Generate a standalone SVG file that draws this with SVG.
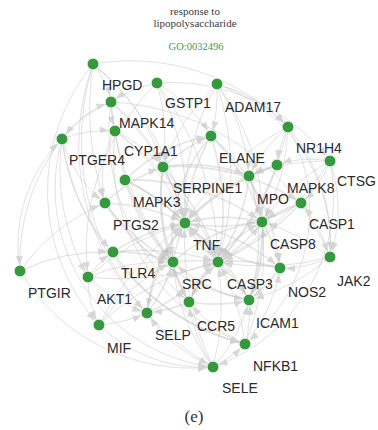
<svg xmlns="http://www.w3.org/2000/svg" width="378" height="430" viewBox="0 0 378 430">
<style>
.e{fill:none;stroke:#c4c4c4;stroke-opacity:0.5;stroke-width:1;marker-end:url(#ah)}
.c{fill:none;stroke:#b4b4b4;stroke-opacity:0.35;stroke-width:1.6;marker-end:url(#ah)}
.n circle{fill:#35993d;stroke:#e8f3e8;stroke-width:0.8}
.n text{font-family:"Liberation Sans",Arial,sans-serif;font-size:14px;fill:#2a2a2a}
.t{font-family:"Liberation Serif","Times New Roman",serif;text-anchor:middle}
</style>
<defs>
<marker id="ah" viewBox="0 0 9 7" markerWidth="9" markerHeight="7" refX="15" refY="3.5" orient="auto" markerUnits="userSpaceOnUse">
<path d="M0,0 L9,3.5 L0,7 z" fill="#d2d2d2" fill-opacity="0.85"/>
</marker>
</defs>
<rect width="378" height="430" fill="#fff"/>
<g id="title">
<text class="t" x="195" y="15" font-size="11" fill="#3a3a3a">response to</text>
<text class="t" x="195" y="27" font-size="11" fill="#3a3a3a">lipopolysaccharide</text>
<text class="t" x="196" y="50" font-size="10.5" fill="#3c9a48">GO:0032496</text>
</g>
<g id="connectors">
<path class="e" d="M93 64 A80 80 0 0 1 111 102"/>
<path class="e" d="M93 64 A200 200 0 0 1 163 167"/>
<path class="e" d="M93 64 A260 260 0 0 1 185 223"/>
<path class="e" d="M93 64 A300 300 0 0 0 105 203"/>
<path class="e" d="M157 83 A120 120 0 0 0 111 102"/>
<path class="e" d="M157 83 A200 200 0 0 1 163 167"/>
<path class="e" d="M157 83 A260 260 0 0 1 185 223"/>
<path class="e" d="M157 83 A150 150 0 0 1 211 136"/>
<path class="e" d="M157 83 A300 300 0 0 1 218 262"/>
<path class="e" d="M217 84 A150 150 0 0 1 211 136"/>
<path class="e" d="M217 84 A180 180 0 0 1 249 176"/>
<path class="e" d="M217 84 A250 250 0 0 0 185 223"/>
<path class="e" d="M217 84 A300 300 0 0 1 218 262"/>
<path class="e" d="M217 84 A200 200 0 0 0 163 167"/>
<path class="e" d="M217 84 A150 150 0 0 1 288 127"/>
<path class="e" d="M111 102 A100 100 0 0 0 115 131"/>
<path class="e" d="M111 102 A180 180 0 0 1 163 167"/>
<path class="e" d="M111 102 A250 250 0 0 1 185 223"/>
<path class="e" d="M111 102 A120 120 0 0 0 62 139"/>
<path class="e" d="M111 102 A300 300 0 0 0 173 262"/>
<path class="e" d="M288 127 A120 120 0 0 0 277 165"/>
<path class="e" d="M288 127 A150 150 0 0 0 249 176"/>
<path class="e" d="M288 127 A200 200 0 0 1 262 222"/>
<path class="e" d="M288 127 A260 260 0 0 0 185 223"/>
<path class="e" d="M288 127 A300 300 0 0 1 218 262"/>
<path class="e" d="M288 127 A180 180 0 0 1 330 257"/>
<path class="e" d="M115 131 A150 150 0 0 1 163 167"/>
<path class="e" d="M115 131 A200 200 0 0 1 185 223"/>
<path class="e" d="M115 131 A250 250 0 0 0 173 262"/>
<path class="e" d="M115 131 A300 300 0 0 1 218 262"/>
<path class="e" d="M115 131 A100 100 0 0 0 105 203"/>
<path class="e" d="M62 139 A100 100 0 0 1 111 102"/>
<path class="e" d="M62 139 A120 120 0 0 1 115 131"/>
<path class="e" d="M62 139 A120 120 0 0 0 105 203"/>
<path class="e" d="M62 139 A200 200 0 0 0 113 252"/>
<path class="e" d="M62 139 A220 220 0 0 0 88 277"/>
<path class="e" d="M62 139 A200 200 0 0 0 20 271"/>
<path class="e" d="M330 161 A100 100 0 0 0 277 165"/>
<path class="e" d="M330 161 A100 100 0 0 1 301 203"/>
<path class="e" d="M330 161 A200 200 0 0 0 262 222"/>
<path class="e" d="M330 161 A200 200 0 0 0 249 176"/>
<path class="e" d="M330 161 A300 300 0 0 1 218 262"/>
<path class="e" d="M330 161 A150 150 0 0 1 330 257"/>
<path class="e" d="M20 271 A200 200 0 0 1 105 203"/>
<path class="e" d="M20 271 A200 200 0 0 1 113 252"/>
<path class="e" d="M88 277 A100 100 0 0 1 113 252"/>
<path class="e" d="M88 277 A200 200 0 0 1 173 262"/>
<path class="e" d="M88 277 A250 250 0 0 1 185 223"/>
<path class="e" d="M88 277 A300 300 0 0 0 218 262"/>
<path class="e" d="M88 277 A100 100 0 0 0 99 325"/>
<path class="e" d="M88 277 A150 150 0 0 0 147 313"/>
<path class="e" d="M99 325 A150 150 0 0 0 147 313"/>
<path class="e" d="M99 325 A200 200 0 0 1 173 262"/>
<path class="e" d="M99 325 A250 250 0 0 1 218 262"/>
<path class="e" d="M99 325 A300 300 0 0 1 185 223"/>
<path class="e" d="M213 367 A120 120 0 0 0 245 344"/>
<path class="e" d="M213 367 A150 150 0 0 1 189 302"/>
<path class="e" d="M213 367 A250 250 0 0 0 218 262"/>
<path class="e" d="M213 367 A200 200 0 0 1 173 262"/>
<path class="e" d="M213 367 A150 150 0 0 0 249 300"/>
<path class="e" d="M213 367 A150 150 0 0 1 147 313"/>
<path class="e" d="M213 367 A300 300 0 0 1 185 223"/>
<path class="e" d="M245 344 A120 120 0 0 0 249 300"/>
<path class="e" d="M245 344 A200 200 0 0 0 218 262"/>
<path class="e" d="M245 344 A250 250 0 0 0 262 222"/>
<path class="e" d="M245 344 A150 150 0 0 0 280 268"/>
<path class="e" d="M245 344 A150 150 0 0 1 189 302"/>
<path class="e" d="M330 257 A100 100 0 0 1 280 268"/>
<path class="e" d="M330 257 A150 150 0 0 0 301 203"/>
<path class="e" d="M330 257 A200 200 0 0 0 262 222"/>
<path class="e" d="M330 257 A250 250 0 0 1 218 262"/>
<path class="e" d="M330 257 A200 200 0 0 1 249 300"/>
<path class="e" d="M62 139 A180 180 0 0 0 213 367"/>
<path class="e" d="M93 64 A200 200 0 0 0 99 325"/>
<path class="e" d="M93 64 A240 240 0 0 0 147 313"/>
<path class="e" d="M93 64 A260 260 0 0 0 213 367"/>
<path class="e" d="M111 102 A220 220 0 0 0 189 302"/>
<path class="e" d="M288 127 A170 170 0 0 1 245 344"/>
<path class="e" d="M330 161 A180 180 0 0 1 213 367"/>
<path class="e" d="M217 84 A170 170 0 0 1 330 257"/>
<path class="e" d="M157 83 A200 200 0 0 1 330 161"/>
<path class="e" d="M20 271 A200 200 0 0 0 213 367"/>
<path class="e" d="M93 64 A220 220 0 0 1 288 127"/>
<path class="e" d="M111 102 A250 250 0 0 1 330 257"/>
<path class="e" d="M62 139 A250 250 0 0 0 245 344"/>
<path class="e" d="M99 325 A150 150 0 0 0 213 367"/>
<path class="e" d="M115 131 A200 200 0 0 0 245 344"/>
<path class="e" d="M157 83 A230 230 0 0 0 88 277"/>
<path class="e" d="M217 84 A230 230 0 0 1 249 300"/>
<path class="e" d="M20 271 A150 150 0 0 1 62 139"/>
<path class="c" d="M163 167 A200 200 0 0 1 185 223"/>
<path class="c" d="M163 167 A200 200 0 0 0 173 262"/>
<path class="c" d="M163 167 A250 250 0 0 1 218 262"/>
<path class="c" d="M163 167 A150 150 0 0 1 211 136"/>
<path class="c" d="M249 176 A200 200 0 0 0 185 223"/>
<path class="c" d="M249 176 A200 200 0 0 1 218 262"/>
<path class="c" d="M249 176 A150 150 0 0 1 262 222"/>
<path class="c" d="M211 136 A200 200 0 0 0 185 223"/>
<path class="c" d="M211 136 A250 250 0 0 1 218 262"/>
<path class="c" d="M211 136 A200 200 0 0 1 262 222"/>
<path class="c" d="M125 180 A200 200 0 0 1 185 223"/>
<path class="c" d="M125 180 A200 200 0 0 0 173 262"/>
<path class="c" d="M125 180 A250 250 0 0 1 218 262"/>
<path class="c" d="M105 203 A200 200 0 0 1 185 223"/>
<path class="c" d="M105 203 A200 200 0 0 0 173 262"/>
<path class="c" d="M113 252 A150 150 0 0 1 173 262"/>
<path class="c" d="M113 252 A250 250 0 0 1 218 262"/>
<path class="c" d="M113 252 A200 200 0 0 1 185 223"/>
<path class="c" d="M173 262 A150 150 0 0 1 185 223"/>
<path class="c" d="M173 262 A200 200 0 0 1 218 262"/>
<path class="c" d="M173 262 A150 150 0 0 0 189 302"/>
<path class="c" d="M218 262 A150 150 0 0 1 185 223"/>
<path class="c" d="M218 262 A150 150 0 0 0 262 222"/>
<path class="c" d="M218 262 A150 150 0 0 1 249 300"/>
<path class="c" d="M218 262 A150 150 0 0 0 189 302"/>
<path class="c" d="M262 222 A150 150 0 0 0 185 223"/>
<path class="c" d="M262 222 A150 150 0 0 1 249 300"/>
<path class="c" d="M262 222 A150 150 0 0 1 280 268"/>
<path class="c" d="M301 203 A150 150 0 0 0 262 222"/>
<path class="c" d="M301 203 A250 250 0 0 1 218 262"/>
<path class="c" d="M277 165 A150 150 0 0 0 249 176"/>
<path class="c" d="M277 165 A250 250 0 0 0 185 223"/>
<path class="c" d="M277 165 A250 250 0 0 1 218 262"/>
<path class="c" d="M280 268 A150 150 0 0 0 218 262"/>
<path class="c" d="M280 268 A150 150 0 0 1 249 300"/>
<path class="c" d="M189 302 A150 150 0 0 0 249 300"/>
<path class="c" d="M189 302 A150 150 0 0 1 147 313"/>
<path class="c" d="M249 300 A250 250 0 0 0 185 223"/>
<path class="c" d="M147 313 A150 150 0 0 0 173 262"/>
<path class="c" d="M147 313 A250 250 0 0 0 218 262"/>
<path class="c" d="M211 136 A200 200 0 0 1 280 268"/>
<path class="c" d="M163 167 A220 220 0 0 1 301 203"/>
<path class="c" d="M125 180 A220 220 0 0 1 262 222"/>
<path class="c" d="M105 203 A220 220 0 0 0 249 300"/>
<path class="c" d="M113 252 A220 220 0 0 0 245 344"/>
<path class="c" d="M185 223 A200 200 0 0 1 280 268"/>
<path class="c" d="M185 223 A200 200 0 0 0 147 313"/>
<path class="c" d="M163 167 A200 200 0 0 0 189 302"/>
<path class="c" d="M249 176 A200 200 0 0 1 249 300"/>
<path class="c" d="M163 167 A160 160 0 0 1 249 176"/>
<path class="c" d="M125 180 A160 160 0 0 1 211 136"/>
<path class="c" d="M105 203 A160 160 0 0 1 163 167"/>
<path class="c" d="M173 262 A160 160 0 0 1 262 222"/>
<path class="c" d="M189 302 A160 160 0 0 1 262 222"/>
<path class="c" d="M147 313 A160 160 0 0 1 185 223"/>
<path class="c" d="M249 300 A160 160 0 0 1 173 262"/>
<path class="c" d="M280 268 A160 160 0 0 1 185 223"/>
<path class="c" d="M301 203 A160 160 0 0 1 185 223"/>
<path class="c" d="M211 136 A160 160 0 0 0 173 262"/>
</g>
<g id="n-A" class="n"><circle cx="93" cy="64" r="5.8"/></g>
<g id="n-B" class="n"><circle cx="157" cy="83" r="5.8"/></g>
<g id="n-C" class="n"><circle cx="217" cy="84" r="5.8"/></g>
<g id="n-D" class="n"><circle cx="111" cy="102" r="5.8"/></g>
<g id="n-E" class="n"><circle cx="288" cy="127" r="5.8"/></g>
<g id="n-F" class="n"><circle cx="115" cy="131" r="5.8"/></g>
<g id="n-G" class="n"><circle cx="211" cy="136" r="5.8"/></g>
<g id="n-H" class="n"><circle cx="62" cy="139" r="5.8"/></g>
<g id="n-I" class="n"><circle cx="330" cy="161" r="5.8"/></g>
<g id="n-J" class="n"><circle cx="277" cy="165" r="5.8"/></g>
<g id="n-K" class="n"><circle cx="163" cy="167" r="5.8"/></g>
<g id="n-L" class="n"><circle cx="249" cy="176" r="5.8"/></g>
<g id="n-M" class="n"><circle cx="125" cy="180" r="5.8"/></g>
<g id="n-N" class="n"><circle cx="105" cy="203" r="5.8"/></g>
<g id="n-O" class="n"><circle cx="301" cy="203" r="5.8"/></g>
<g id="n-P" class="n"><circle cx="185" cy="223" r="5.8"/></g>
<g id="n-Q" class="n"><circle cx="262" cy="222" r="5.8"/></g>
<g id="n-R" class="n"><circle cx="113" cy="252" r="5.8"/></g>
<g id="n-S" class="n"><circle cx="173" cy="262" r="5.8"/></g>
<g id="n-T" class="n"><circle cx="218" cy="262" r="5.8"/></g>
<g id="n-U" class="n"><circle cx="330" cy="257" r="5.8"/></g>
<g id="n-V" class="n"><circle cx="20" cy="271" r="5.8"/></g>
<g id="n-W" class="n"><circle cx="88" cy="277" r="5.8"/></g>
<g id="n-X" class="n"><circle cx="280" cy="268" r="5.8"/></g>
<g id="n-Y" class="n"><circle cx="189" cy="302" r="5.8"/></g>
<g id="n-Z" class="n"><circle cx="249" cy="300" r="5.8"/></g>
<g id="n-AA" class="n"><circle cx="147" cy="313" r="5.8"/></g>
<g id="n-AB" class="n"><circle cx="99" cy="325" r="5.8"/></g>
<g id="n-AC" class="n"><circle cx="245" cy="344" r="5.8"/></g>
<g id="n-AD" class="n"><circle cx="213" cy="367" r="5.8"/></g>
<g id="labels" class="n">
<text x="102" y="90">HPGD</text>
<text x="165" y="108">GSTP1</text>
<text x="225" y="112">ADAM17</text>
<text x="119" y="128">MAPK14</text>
<text x="69" y="165">PTGER4</text>
<text x="124" y="156">CYP1A1</text>
<text x="296" y="153">NR1H4</text>
<text x="219" y="163">ELANE</text>
<text x="173" y="193">SERPINE1</text>
<text x="287" y="193">MAPK8</text>
<text x="337" y="186">CTSG</text>
<text x="257" y="204">MPO</text>
<text x="309" y="229">CASP1</text>
<text x="133" y="207">MAPK3</text>
<text x="113" y="230">PTGS2</text>
<text x="193" y="250">TNF</text>
<text x="270" y="249">CASP8</text>
<text x="121" y="278">TLR4</text>
<text x="182" y="289">SRC</text>
<text x="227" y="289">CASP3</text>
<text x="337" y="286">JAK2</text>
<text x="288" y="297">NOS2</text>
<text x="28" y="298">PTGIR</text>
<text x="97" y="304">AKT1</text>
<text x="197" y="331">CCR5</text>
<text x="256" y="328">ICAM1</text>
<text x="155" y="340">SELP</text>
<text x="107" y="353">MIF</text>
<text x="253" y="371">NFKB1</text>
<text x="222" y="393">SELE</text>
</g>
<text class="t" x="194" y="422" font-size="17" fill="#333">(e)</text>
</svg>
